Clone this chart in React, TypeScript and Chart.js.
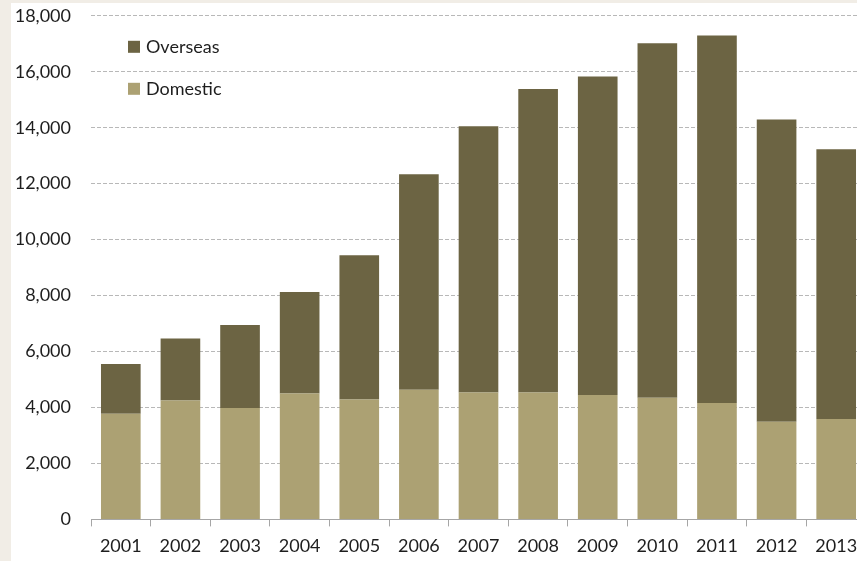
import React, { useEffect, useRef } from "react";
import { Chart, registerables } from "chart.js";

Chart.register(...registerables);

const years = ["2001", "2002", "2003", "2004", "2005", "2006", "2007", "2008", "2009", "2010", "2011", "2012", "2013"];
const domestic = [3780, 4250, 3980, 4500, 4290, 4635, 4540, 4540, 4445, 4350, 4160, 3490, 3590];
const overseas = [1775, 2220, 2970, 3630, 5150, 7700, 9510, 10840, 11385, 12670, 13140, 10800, 9640];
const yTicks = [0, 2000, 4000, 6000, 8000, 10000, 12000, 14000, 16000, 18000];

const FONT = "Lato, 'Open Sans', sans-serif";
const TEXT = "#1e1e1e";

const legendPlugin = {
  id: "insideLegend",
  afterDraw(chart: any) {
    const { ctx, chartArea } = chart;
    const items = [...chart.data.datasets].reverse();
    ctx.save();
    ctx.font = `18px ${FONT}`;
    ctx.textBaseline = "middle";
    ctx.textAlign = "left";
    items.forEach((ds: any, i: number) => {
      const x = chartArea.left + 37;
      const y = chartArea.top + 31 + i * 42;
      ctx.fillStyle = ds.backgroundColor;
      ctx.fillRect(x, y - 6, 12, 12);
      ctx.fillStyle = TEXT;
      ctx.fillText(ds.label, x + 18, y);
    });
    ctx.restore();
  },
};

export default function App() {
  const ref = useRef<HTMLCanvasElement>(null);
  useEffect(() => {
    if (!ref.current) return;
    const chart = new Chart(ref.current, {
      type: "bar",
      data: {
        labels: years,
        datasets: [
          { label: "Domestic", data: domestic, backgroundColor: "#aca173", borderWidth: 0 },
          { label: "Overseas", data: overseas, backgroundColor: "#6c6443", borderWidth: 0 },
        ],
      },
      options: {
        responsive: false,
        animation: false,
        layout: { padding: { left: 0, right: 14, top: 8, bottom: 0 } },
        datasets: { bar: { categoryPercentage: 1, barPercentage: 0.665 } },
        plugins: { legend: { display: false }, tooltip: { enabled: false } },
        scales: {
          x: {
            stacked: true,
            grid: { drawOnChartArea: false, drawTicks: true, tickLength: 7, color: "#a6a6a6", offset: true },
            border: { display: true, color: "#a6a6a6", width: 1 },
            ticks: { color: TEXT, font: { family: FONT, size: 18 }, padding: 9, maxRotation: 0 },
          },
          y: {
            stacked: true,
            min: 0,
            max: 18000,
            afterBuildTicks: (scale: any) => {
              scale.ticks = yTicks.map((v) => ({ value: v }));
            },
            afterFit: (scale: any) => {
              scale.width = 91;
            },
            grid: {
              drawTicks: false,
              color: (c: any) => (c.tick && c.tick.value === 0 ? "rgba(0,0,0,0)" : "#b8b8b8"),
            },
            border: { display: false, dash: [4, 2] },
            ticks: {
              color: TEXT,
              font: { family: FONT, size: 18 },
              padding: 20,
              callback: (v: any) => Number(v).toLocaleString("en-US"),
            },
          },
        },
      },
      plugins: [legendPlugin],
    });
    return () => chart.destroy();
  }, []);

  return (
    <div style={{ position: "fixed", left: 0, top: 0, width: 857, height: 561, overflow: "hidden", background: "#f1ede6" }}>
      <div style={{ position: "absolute", left: 11, top: 3, right: 0, bottom: 0, background: "#ffffff" }} />
      <canvas ref={ref} width={880} height={581} style={{ position: "absolute", left: 0, top: -15 }} />
    </div>
  );
}
